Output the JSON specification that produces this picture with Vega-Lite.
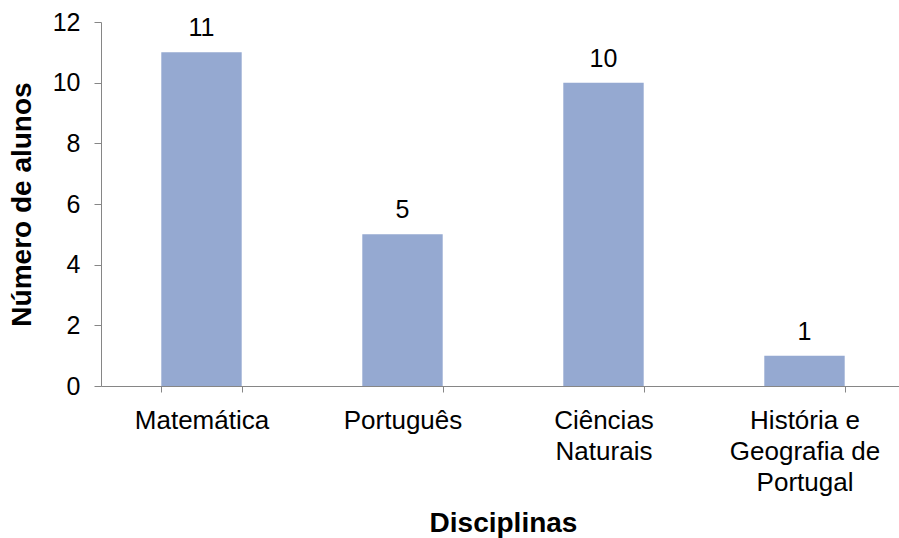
{
  "$schema": "https://vega.github.io/schema/vega-lite/v6.json",
  "width": 804,
  "height": 364,
  "autosize": {"type": "none"},
  "padding": {"left": 101, "top": 22, "right": -6, "bottom": 152},
  "background": "white",
  "config": {
    "font": "Liberation Sans",
    "view": {"stroke": null},
    "axis": {"grid": false, "domainColor": "#868686", "tickColor": "#868686", "labelColor": "#000000", "titleColor": "#000000", "labelFont": "Liberation Sans", "titleFont": "Liberation Sans"}
  },
  "data": {
    "values": [
      {"disciplina": "Matemática", "alunos": 11},
      {"disciplina": "Português", "alunos": 5},
      {"disciplina": "Ciências Naturais", "alunos": 10},
      {"disciplina": "História e Geografia de Portugal", "alunos": 1}
    ]
  },
  "encoding": {
    "x": {
      "field": "disciplina",
      "type": "nominal",
      "sort": null,
      "scale": {"paddingInner": 0.6, "paddingOuter": 0.3},
      "axis": {
        "title": "Disciplinas",
        "titleFontSize": 28,
        "titleFontWeight": "bold",
        "titlePadding": 14,
        "labelAngle": 0,
        "labelFontSize": 26,
        "labelLineHeight": 31,
        "labelPadding": 15,
        "tickSize": 6,
        "tickBand": "extent",
        "labelExpr": "datum.value == 'Ciências Naturais' ? ['Ciências', 'Naturais'] : datum.value == 'História e Geografia de Portugal' ? ['História e', 'Geografia de', 'Portugal'] : datum.value"
      }
    },
    "y": {
      "field": "alunos",
      "type": "quantitative",
      "scale": {"domain": [0, 12]},
      "axis": {
        "title": "Número de alunos",
        "titleFontSize": 28,
        "titleFontWeight": "bold",
        "titlePadding": 16,
        "values": [0, 2, 4, 6, 8, 10, 12],
        "labelFontSize": 25,
        "labelPadding": 14,
        "tickSize": 7
      }
    }
  },
  "layer": [
    {"mark": {"type": "bar", "color": "#95A9D1"}},
    {
      "mark": {"type": "text", "fontSize": 25, "baseline": "alphabetic", "dy": -16, "color": "#000000"},
      "encoding": {"text": {"field": "alunos", "type": "quantitative"}}
    }
  ]
}
